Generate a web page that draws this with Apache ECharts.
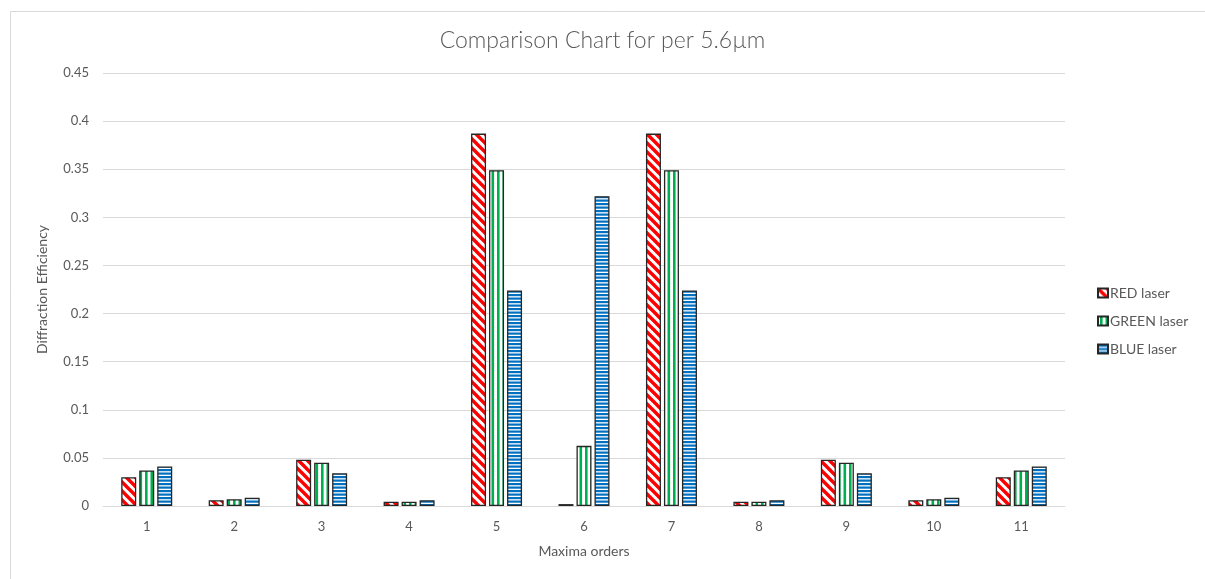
<!DOCTYPE html>
<html>
<head>
<meta charset="utf-8">
<script src="https://cdn.jsdelivr.net/npm/echarts@6/dist/echarts.min.js"></script>
<style>
html,body{margin:0;padding:0;background:#fff;}
#chart{width:1205px;height:579px;}
</style>
</head>
<body>
<div id="chart"></div>
<script>
const categories = ['1','2','3','4','5','6','7','8','9','10','11'];
const redLaser   = [0.030, 0.006, 0.048, 0.0045, 0.387, 0.002, 0.387, 0.0045, 0.048, 0.006, 0.030];
const greenLaser = [0.037, 0.007, 0.045, 0.0045, 0.349, 0.0625, 0.349, 0.0045, 0.045, 0.007, 0.037];
const blueLaser  = [0.041, 0.0087, 0.034, 0.006, 0.224, 0.322, 0.224, 0.006, 0.034, 0.0087, 0.041];
const seriesNames = ['RED laser', 'GREEN laser', 'BLUE laser'];
const yTicks = [0, 0.05, 0.1, 0.15, 0.2, 0.25, 0.3, 0.35, 0.4, 0.45];

function diagPattern(color){
  const c = document.createElement('canvas');
  c.width = 9; c.height = 9;
  const g = c.getContext('2d');
  g.fillStyle = '#fff'; g.fillRect(0,0,9,9);
  g.strokeStyle = color; g.lineWidth = 3.4;
  g.beginPath();
  g.moveTo(-2,-2); g.lineTo(11,11);
  g.moveTo(-7,2); g.lineTo(2,11);
  g.moveTo(2,-7); g.lineTo(11,2);
  g.stroke();
  return c;
}
function vertPattern(color){
  const c = document.createElement('canvas');
  c.width = 11; c.height = 4;
  const g = c.getContext('2d');
  g.fillStyle = '#fff'; g.fillRect(0,0,11,4);
  g.fillStyle = color; g.fillRect(2,0,2.6,4); g.fillRect(7.5,0,2.6,4);
  return c;
}
function horizPattern(color){
  const c = document.createElement('canvas');
  c.width = 4; c.height = 7;
  const g = c.getContext('2d');
  g.fillStyle = '#fff'; g.fillRect(0,0,4,7);
  g.fillStyle = color; g.fillRect(0,0,4,2.2); g.fillRect(0,3.5,4,2.2);
  return c;
}

const patterns = [
  {image: diagPattern('#FF0000'), repeat: 'repeat'},
  {image: vertPattern('#00B050'), repeat: 'repeat'},
  {image: horizPattern('#0070C0'), repeat: 'repeat'}
];
const dataSets = [redLaser, greenLaser, blueLaser];

const FONT = 'Lato, "Open Sans", sans-serif';
const chart = echarts.init(document.getElementById('chart'), null, {renderer: 'canvas'});

chart.setOption({
  animation: false,
  backgroundColor: '#fff',
  graphic: [{
    type: 'rect', left: 8, top: 9, silent: true,
    shape: {x: 0, y: 0, width: 1220, height: 600},
    style: {fill: 'none', stroke: '#d9d9d9', lineWidth: 1}
  }],
  title: {
    text: 'Comparison Chart for per 5.6µm',
    left: 'center', top: 24,
    textStyle: {fontFamily: FONT, fontSize: 23, fontWeight: 300, color: '#595959'}
  },
  legend: {
    orient: 'vertical', left: 1092, top: 281,
    itemWidth: 10, itemHeight: 9, itemGap: 14,
    icon: 'rect',
    textStyle: {fontFamily: FONT, fontSize: 14, color: '#595959', padding: [0,0,0,-3]},
    data: seriesNames
  },
  grid: {left: 103, right: 140, top: 73, bottom: 73, containLabel: false},
  xAxis: {
    type: 'category', data: categories,
    name: 'Maxima orders', nameLocation: 'middle', nameGap: 38,
    nameTextStyle: {fontFamily: FONT, fontSize: 14, color: '#595959'},
    axisLine: {lineStyle: {color: '#d9d9d9'}},
    axisTick: {show: false},
    axisLabel: {fontFamily: FONT, fontSize: 13, color: '#595959', margin: 14}
  },
  yAxis: {
    type: 'value', min: 0, max: 0.45, interval: 0.05,
    name: 'Diffraction Efficiency', nameLocation: 'middle', nameGap: 54,
    nameTextStyle: {fontFamily: FONT, fontSize: 14, color: '#595959'},
    axisLine: {show: false}, axisTick: {show: false},
    splitLine: {lineStyle: {color: '#d9d9d9'}},
    axisLabel: {fontFamily: FONT, fontSize: 13, color: '#595959', margin: 14,
      formatter: v => yTicks.includes(+v.toFixed(2)) ? String(+v.toFixed(2)) : ''}
  },
  series: seriesNames.map((n, i) => ({
    name: n, type: 'bar', data: dataSets[i],
    barWidth: 15, barGap: '20%',
    itemStyle: {color: patterns[i], borderColor: '#262626', borderWidth: 1.3}
  }))
});
</script>
</body>
</html>
